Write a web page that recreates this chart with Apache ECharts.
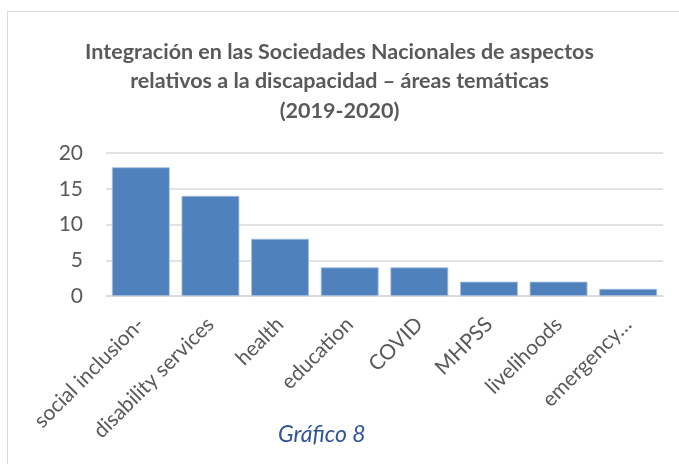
<!DOCTYPE html>
<html>
<head>
<meta charset="utf-8">
<script src="https://cdn.jsdelivr.net/npm/echarts@6/dist/echarts.min.js"></script>
<style>
html,body{margin:0;padding:0;background:#fff;}
#frame{position:absolute;left:7px;top:11px;width:700px;height:480px;border:1.5px solid #d9d9d9;box-sizing:border-box;}
#c{position:absolute;left:0;top:0;width:679px;height:464px;}
</style>
</head>
<body>
<div id="frame"></div>
<div id="c"></div>
<script>
const titleLines = ['Integración en las Sociedades Nacionales de aspectos', 'relativos a la discapacidad – áreas temáticas', '(2019-2020)'];
const categories = ['social inclusion-', 'disability services', 'health', 'education', 'COVID', 'MHPSS', 'livelihoods', 'emergency…'];
const values = [18, 14, 8, 4, 4, 2, 2, 1];
const yTicks = { min: 0, max: 20, interval: 5 };
const caption = 'Gráfico 8';

const FONT = 'Lato, "Open Sans", sans-serif';
const chart = echarts.init(document.getElementById('c'), null, { renderer: 'canvas' });
chart.setOption({
  backgroundColor: 'transparent',
  animation: false,
  title: {
    text: titleLines.join('\n'),
    left: 'center',
    top: 32,
    textStyle: { fontFamily: FONT, fontWeight: 'bold', fontSize: 21.5, color: '#595959', lineHeight: 29.5 }
  },
  graphic: [{
    type: 'text',
    left: 278,
    top: 423,
    style: { text: caption, fontFamily: FONT, fontStyle: 'italic', fontSize: 23, fill: '#2F5597' }
  }],
  grid: { left: 106, right: 16, top: 153, bottom: 168 },
  xAxis: {
    type: 'category',
    data: categories,
    axisLine: { lineStyle: { color: '#d9d9d9', width: 1.5 } },
    axisTick: { show: false },
    axisLabel: { rotate: 45, interval: 0, margin: 25, fontFamily: FONT, fontSize: 21, color: '#595959' }
  },
  yAxis: {
    type: 'value',
    min: yTicks.min, max: yTicks.max, interval: yTicks.interval,
    axisLine: { show: false },
    axisTick: { show: false },
    splitLine: { lineStyle: { color: '#d9d9d9', width: 1.5 } },
    axisLabel: { margin: 23, fontFamily: FONT, fontSize: 21, color: '#595959' }
  },
  series: [{
    type: 'bar',
    data: values,
    barCategoryGap: '17%',
    itemStyle: { color: '#4F81BD', borderColor: '#a7bfde', borderWidth: 0.8 }
  }]
});
</script>
</body>
</html>
